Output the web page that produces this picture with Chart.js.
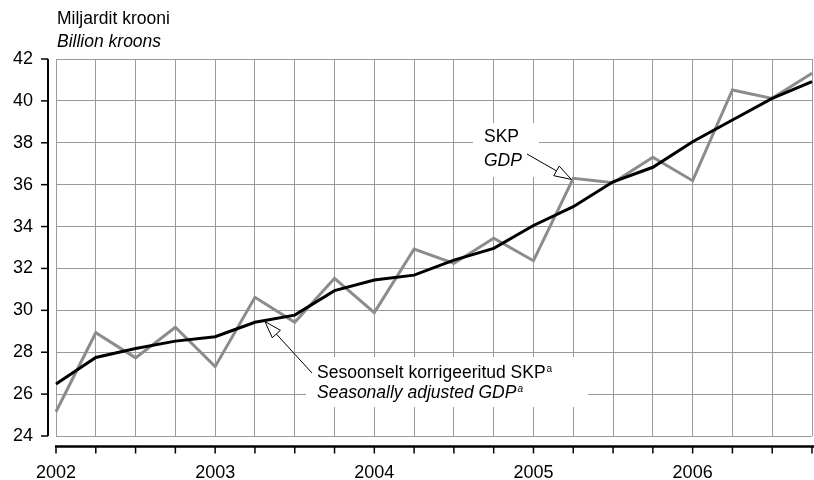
<!DOCTYPE html>
<html>
<head>
<meta charset="utf-8">
<script src="https://cdn.jsdelivr.net/npm/chart.js@4.4.0/dist/chart.umd.min.js"></script>
<style>
html, body { margin: 0; padding: 0; background: #fff; }
#wrap { width: 814px; height: 480px; position: relative; }
</style>
</head>
<body>
<div id="wrap"><canvas id="cv"></canvas></div>
<script>
var years = ['2002', '2003', '2004', '2005', '2006'];
var quarters = ['I', 'II', 'III', 'IV'];
// SKP / GDP, billion kroons, quarterly
var gdp = [25.16, 28.93, 27.73, 29.19, 27.31, 30.62, 29.43, 31.53, 29.89, 32.93,
	32.24, 33.44, 32.37, 36.30, 36.09, 37.31, 36.19, 40.52, 40.12, 41.32];
// seasonally adjusted
var gdpSa = [26.48, 27.75, 28.18, 28.53, 28.74, 29.43, 29.77, 30.94, 31.45, 31.68,
	32.40, 32.96, 34.05, 34.95, 36.14, 36.83, 38.05, 39.09, 40.12, 40.92];
var yTicks = [24, 26, 28, 30, 32, 34, 36, 38, 40, 42];

var labels = [];
years.forEach(function(y) {
	quarters.forEach(function(q) { labels.push(y + ' ' + q); });
});

var FONT = '"Liberation Sans", Arial, sans-serif';

function arrow(ctx, x0, y0, x1, y1) {
	var ang = Math.atan2(y1 - y0, x1 - x0), len = 17, w = 5.5;
	var bx = x1 - len * Math.cos(ang), by = y1 - len * Math.sin(ang);
	ctx.beginPath(); ctx.moveTo(x0, y0); ctx.lineTo(bx, by); ctx.stroke();
	ctx.beginPath();
	ctx.moveTo(x1, y1);
	ctx.lineTo(bx + w * Math.sin(ang), by - w * Math.cos(ang));
	ctx.lineTo(bx - w * Math.sin(ang), by + w * Math.cos(ang));
	ctx.closePath();
	ctx.fillStyle = '#fff'; ctx.fill(); ctx.stroke();
}

function supText(ctx, txt, sup, x, y, italic) {
	var st = italic ? 'italic ' : '';
	ctx.font = st + '17.5px ' + FONT;
	ctx.fillText(txt, x, y);
	var w = ctx.measureText(txt).width;
	ctx.font = st + '10px ' + FONT;
	ctx.fillText(sup, x + w + 1, y - 6);
}

var extras = {
	id: 'extras',
	beforeDatasetsDraw: function(chart) {
		var ctx = chart.ctx;
		ctx.save();
		ctx.fillStyle = '#fff';
		ctx.fillRect(473, 123, 66, 54);
		ctx.fillRect(306, 357, 282, 50);
		ctx.restore();
	},
	afterDraw: function(chart) {
		var ctx = chart.ctx, xs = chart.scales.x, ys = chart.scales.y, a = chart.chartArea;
		ctx.save();
		ctx.fillStyle = '#000';
		ctx.textAlign = 'left';
		ctx.textBaseline = 'alphabetic';
		ctx.font = '17.5px ' + FONT;
		ctx.fillText('Miljardit krooni', 57, 24);
		ctx.font = 'italic 17.5px ' + FONT;
		ctx.fillText('Billion kroons', 57, 47);

		// y axis
		ctx.strokeStyle = '#000';
		ctx.lineWidth = 2;
		ctx.beginPath(); ctx.moveTo(48, a.top); ctx.lineTo(48, a.bottom); ctx.stroke();
		ctx.lineWidth = 1.5;
		yTicks.forEach(function(v) {
			var py = ys.getPixelForValue(v);
			ctx.beginPath(); ctx.moveTo(41, py); ctx.lineTo(48, py); ctx.stroke();
		});
		// x axis
		var axY = a.bottom + 10.5;
		ctx.lineWidth = 2.5;
		ctx.beginPath(); ctx.moveTo(a.left - 1, axY); ctx.lineTo(chart.width, axY); ctx.stroke();
		ctx.lineWidth = 1.5;
		labels.forEach(function(l, i) {
			var px = xs.getPixelForValue(i);
			ctx.beginPath(); ctx.moveTo(px, axY); ctx.lineTo(px, axY + 7); ctx.stroke();
		});

		// annotations
		ctx.fillStyle = '#000';
		ctx.font = '17.5px ' + FONT;
		ctx.fillText('SKP', 484, 142);
		ctx.font = 'italic 17.5px ' + FONT;
		ctx.fillText('GDP', 484, 166);
		ctx.lineWidth = 1;
		arrow(ctx, 527, 154, xs.getPixelForValue(13) - 2, ys.getPixelForValue(gdp[13]) + 1);

		ctx.fillStyle = '#000';
		supText(ctx, 'Sesoonselt korrigeeritud SKP', 'a', 317, 378, false);
		supText(ctx, 'Seasonally adjusted GDP', 'a', 317, 398, true);
		var tx = xs.getPixelForValue(5) + 0.25 * (xs.getPixelForValue(6) - xs.getPixelForValue(5));
		var ty = ys.getPixelForValue(gdpSa[5] + 0.25 * (gdpSa[6] - gdpSa[5])) + 1;
		arrow(ctx, 312, 373, tx, ty);
		ctx.restore();
	}
};

Chart.defaults.font.family = FONT;
Chart.defaults.color = '#000';

new Chart(document.getElementById('cv'), {
	type: 'line',
	data: {
		labels: labels,
		datasets: [
			{ label: 'Seasonally adjusted GDP', data: gdpSa, borderColor: '#000', borderWidth: 3,
				pointRadius: 0, tension: 0, fill: false },
			{ label: 'GDP', data: gdp, borderColor: '#8c8c8c', borderWidth: 3,
				pointRadius: 0, tension: 0, fill: false }
		]
	},
	options: {
		responsive: true,
		maintainAspectRatio: false,
		animation: false,
		layout: { padding: { top: 59, right: 2, left: 0, bottom: 0 } },
		plugins: { legend: { display: false }, tooltip: { enabled: false } },
		scales: {
			x: {
				type: 'category',
				offset: false,
				border: { display: false },
				grid: { color: '#9a9a9a', lineWidth: 1, drawTicks: false },
				ticks: {
					autoSkip: false, maxRotation: 0, padding: 26,
					font: { size: 18 },
					callback: function(v, i) { return i % 4 === 0 ? labels[i].split(' ')[0] : ''; }
				},
				afterFit: function(s) { s.height = 44; s.paddingLeft = 0; s.paddingRight = 0; }
			},
			y: {
				min: 24, max: 42,
				border: { display: false },
				grid: { color: '#9a9a9a', lineWidth: 1, drawTicks: false },
				ticks: { stepSize: 2, padding: 23, font: { size: 18 } },
				afterFit: function(s) { s.width = 56; }
			}
		}
	},
	plugins: [extras]
});
</script>
</body>
</html>
